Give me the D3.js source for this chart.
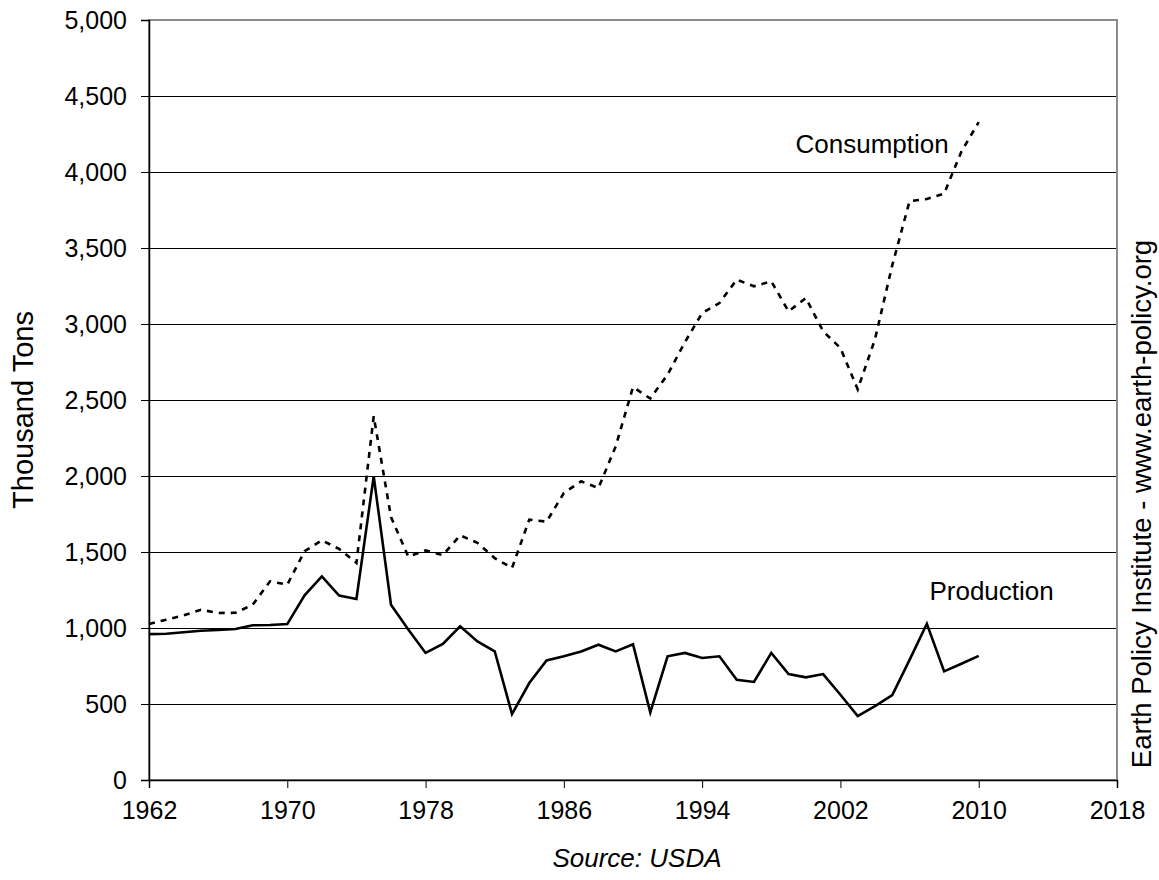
<!DOCTYPE html>
<html>
<head>
<meta charset="utf-8">
<script src="https://cdn.jsdelivr.net/npm/d3@7"></script>
<style>
  html, body { margin: 0; padding: 0; background: #fff; }
  svg { display: block; font-family: "Liberation Sans", Arial, sans-serif; }
</style>
</head>
<body>
<svg id="chart" width="1159" height="880"></svg>
<script>
const years = d3.range(1962, 2011);
const production = [960, 962, 972, 982, 987, 993, 1018, 1020, 1026, 1215,
  1340, 1213, 1191, 1998, 1153, 990, 836, 895, 1011, 912,
  847, 434, 638, 787, 814, 846, 890, 846, 893, 445,
  814, 836, 803, 814, 660, 645, 836, 697, 675, 697,
  561, 421, 486, 558, 790, 1028, 715, 765, 817];
const consumption = [1026, 1055, 1083, 1120, 1099, 1100, 1153, 1307, 1285, 1505,
  1577, 1520, 1428, 2393, 1730, 1470, 1510, 1480, 1610, 1560,
  1460, 1395, 1713, 1700, 1888, 1965, 1921, 2195, 2585, 2510,
  2667, 2880, 3072, 3138, 3292, 3248, 3281, 3083, 3171, 2952,
  2842, 2570, 2900, 3387, 3808, 3822, 3858, 4135, 4328];
const xTicks = [1962, 1970, 1978, 1986, 1994, 2002, 2010, 2018];
const yTicks = [0, 500, 1000, 1500, 2000, 2500, 3000, 3500, 4000, 4500, 5000];
const seriesLabels = ["Consumption", "Production"];
const yTitle = "Thousand Tons";
const sourceText = "Source: USDA";
const creditText = "Earth Policy Institute - www.earth-policy.org";

const svg = d3.select("#chart");
const L = 149, R = 1117, T = 20, B = 780;
const x = d3.scaleLinear().domain([1962, 2018]).range([L, R]);
const y = d3.scaleLinear().domain([0, 5000]).range([B, T]);

// gridlines
svg.append("g").selectAll("line").data(yTicks.filter(v => v > 0 && v < 5000)).join("line")
  .attr("x1", L).attr("x2", R).attr("y1", d => y(d)).attr("y2", d => y(d))
  .attr("stroke", "#000").attr("stroke-width", 1).attr("shape-rendering", "crispEdges");

// frame (gray top/right)
svg.append("rect").attr("x", L).attr("y", T).attr("width", R - L).attr("height", B - T)
  .attr("fill", "none").attr("stroke", "#8c8c8c").attr("stroke-width", 2);

// y axis
const yAxis = d3.axisLeft(y).tickValues(yTicks).tickSize(8).tickPadding(14)
  .tickFormat(d3.format(","));
const gy = svg.append("g").attr("transform", `translate(${L},0)`).call(yAxis);
gy.select(".domain").attr("stroke", "#000").attr("stroke-width", 1.5);
gy.selectAll(".tick line").attr("stroke", "#000");
gy.selectAll(".tick text").attr("font-size", 25).attr("fill", "#000")
  .attr("font-family", "Liberation Sans, Arial, sans-serif");

// x axis
const xAxis = d3.axisBottom(x).tickValues(xTicks).tickSize(8).tickPadding(13)
  .tickFormat(d3.format("d"));
const gx = svg.append("g").attr("transform", `translate(0,${B})`).call(xAxis);
gx.select(".domain").attr("stroke", "#000").attr("stroke-width", 1.5);
gx.selectAll(".tick line").attr("stroke", "#000");
gx.selectAll(".tick text").attr("font-size", 25).attr("fill", "#000")
  .attr("font-family", "Liberation Sans, Arial, sans-serif");

// lines
const line = d3.line().x((d, i) => x(years[i])).y(d => y(d));
svg.append("path").datum(consumption).attr("d", line)
  .attr("fill", "none").attr("stroke", "#000").attr("stroke-width", 2.6)
  .attr("stroke-dasharray", "6,6");
svg.append("path").datum(production).attr("d", line)
  .attr("fill", "none").attr("stroke", "#000").attr("stroke-width", 2.6)
  .attr("stroke-linejoin", "miter");

// series labels
svg.append("text").attr("x", x(1999.4)).attr("y", y(4125)).attr("font-size", 26)
  .attr("text-anchor", "start").text(seriesLabels[0]);
svg.append("text").attr("x", x(2007.15)).attr("y", y(1184)).attr("font-size", 26)
  .attr("text-anchor", "start").text(seriesLabels[1]);

// y title
svg.append("text").attr("transform", "translate(33,410) rotate(-90)")
  .attr("text-anchor", "middle").attr("font-size", 29).text(yTitle);

// credit
svg.append("text").attr("transform", "translate(1151,504) rotate(-90)")
  .attr("text-anchor", "middle").attr("font-size", 27.5).text(creditText);

// source
svg.append("text").attr("x", 637).attr("y", 867).attr("text-anchor", "middle")
  .attr("font-size", 26).attr("font-style", "italic").text(sourceText);
</script>
</body>
</html>
